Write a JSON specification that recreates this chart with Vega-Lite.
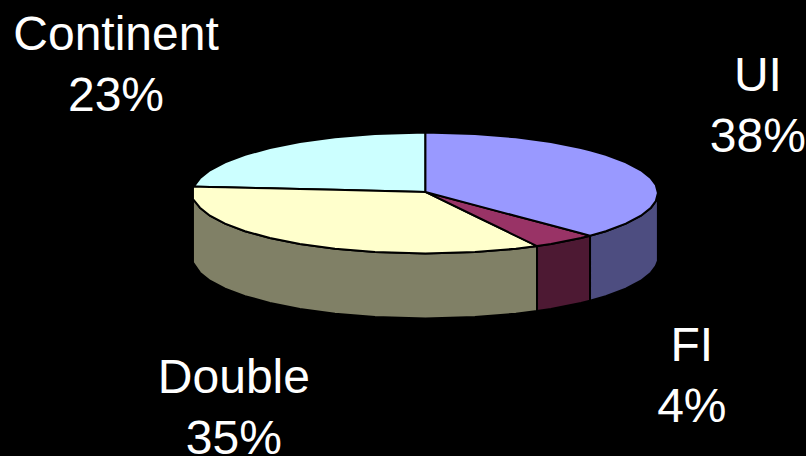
{
  "$schema": "https://vega.github.io/schema/vega-lite/v6.json",
  "width": 806,
  "height": 456,
  "autosize": {"type": "none"},
  "padding": 0,
  "background": "#000000",
  "view": {"stroke": null},
  "datasets": {
    "sides": [
      {"slice": "Double side", "u": -1, "v1": 0, "v2": -1.15},
      {"slice": "Double side", "u": -0.97, "v1": -0.243, "v2": -1.317},
      {"slice": "Double side", "u": -0.927, "v1": -0.375, "v2": -1.449},
      {"slice": "Double side", "u": -0.862, "v1": -0.507, "v2": -1.581},
      {"slice": "Double side", "u": -0.776, "v1": -0.631, "v2": -1.705},
      {"slice": "Double side", "u": -0.669, "v1": -0.743, "v2": -1.817},
      {"slice": "Double side", "u": -0.54, "v1": -0.842, "v2": -1.916},
      {"slice": "Double side", "u": -0.389, "v1": -0.921, "v2": -1.995},
      {"slice": "Double side", "u": -0.217, "v1": -0.976, "v2": -2.05},
      {"slice": "Double side", "u": 0, "v1": -1, "v2": -2.074},
      {"slice": "Double side", "u": 0.213, "v1": -0.977, "v2": -2.051},
      {"slice": "Double side", "u": 0.389, "v1": -0.921, "v2": -1.995},
      {"slice": "Double side", "u": 0.48, "v1": -0.877, "v2": -1.951},
      {"slice": "FI side", "u": 0.48, "v1": -0.877, "v2": -1.951},
      {"slice": "FI side", "u": 0.54, "v1": -0.842, "v2": -1.916},
      {"slice": "FI side", "u": 0.669, "v1": -0.743, "v2": -1.817},
      {"slice": "FI side", "u": 0.708, "v1": -0.706, "v2": -1.78},
      {"slice": "UI side", "u": 0.708, "v1": -0.706, "v2": -1.78},
      {"slice": "UI side", "u": 0.776, "v1": -0.631, "v2": -1.705},
      {"slice": "UI side", "u": 0.862, "v1": -0.507, "v2": -1.581},
      {"slice": "UI side", "u": 0.927, "v1": -0.375, "v2": -1.449},
      {"slice": "UI side", "u": 0.97, "v1": -0.243, "v2": -1.317},
      {"slice": "UI side", "u": 0.991, "v1": -0.134, "v2": -1.208},
      {"slice": "UI side", "u": 1, "v1": 0, "v2": -1.12}
    ],
    "tops": [
      {"slice": "Continent", "u": -0.996, "v1": 0.107, "v2": 0.107},
      {"slice": "Continent", "u": -0.97, "v1": 0.243, "v2": 0.105},
      {"slice": "Continent", "u": -0.927, "v1": 0.375, "v2": 0.101},
      {"slice": "Continent", "u": -0.862, "v1": 0.507, "v2": 0.095},
      {"slice": "Continent", "u": -0.776, "v1": 0.631, "v2": 0.087},
      {"slice": "Continent", "u": -0.669, "v1": 0.743, "v2": 0.077},
      {"slice": "Continent", "u": -0.54, "v1": 0.842, "v2": 0.066},
      {"slice": "Continent", "u": -0.389, "v1": 0.921, "v2": 0.052},
      {"slice": "Continent", "u": -0.217, "v1": 0.976, "v2": 0.037},
      {"slice": "Continent", "u": 0, "v1": 1, "v2": 0.017},
      {"slice": "Double", "u": -1, "v1": 0.107, "v2": -0.1},
      {"slice": "Double", "u": -0.97, "v1": 0.105, "v2": -0.243},
      {"slice": "Double", "u": -0.927, "v1": 0.101, "v2": -0.375},
      {"slice": "Double", "u": -0.862, "v1": 0.095, "v2": -0.507},
      {"slice": "Double", "u": -0.776, "v1": 0.087, "v2": -0.631},
      {"slice": "Double", "u": -0.669, "v1": 0.077, "v2": -0.743},
      {"slice": "Double", "u": -0.54, "v1": 0.066, "v2": -0.842},
      {"slice": "Double", "u": -0.389, "v1": 0.052, "v2": -0.921},
      {"slice": "Double", "u": -0.217, "v1": 0.037, "v2": -0.976},
      {"slice": "Double", "u": 0, "v1": 0.017, "v2": -1},
      {"slice": "Double", "u": 0.213, "v1": -0.38, "v2": -0.977},
      {"slice": "Double", "u": 0.389, "v1": -0.708, "v2": -0.921},
      {"slice": "Double", "u": 0.48, "v1": -0.877, "v2": -0.877},
      {"slice": "FI", "u": 0, "v1": 0.017, "v2": 0.017},
      {"slice": "FI", "u": 0.48, "v1": -0.473, "v2": -0.877},
      {"slice": "FI", "u": 0.54, "v1": -0.534, "v2": -0.842},
      {"slice": "FI", "u": 0.669, "v1": -0.666, "v2": -0.743},
      {"slice": "FI", "u": 0.708, "v1": -0.706, "v2": -0.706},
      {"slice": "UI", "u": 0, "v1": 1, "v2": 0.017},
      {"slice": "UI", "u": 0.213, "v1": 0.977, "v2": -0.2},
      {"slice": "UI", "u": 0.389, "v1": 0.921, "v2": -0.38},
      {"slice": "UI", "u": 0.54, "v1": 0.842, "v2": -0.534},
      {"slice": "UI", "u": 0.669, "v1": 0.743, "v2": -0.666},
      {"slice": "UI", "u": 0.708, "v1": 0.706, "v2": -0.706},
      {"slice": "UI", "u": 0.776, "v1": 0.631, "v2": -0.631},
      {"slice": "UI", "u": 0.862, "v1": 0.507, "v2": -0.507},
      {"slice": "UI", "u": 0.927, "v1": 0.375, "v2": -0.375},
      {"slice": "UI", "u": 0.97, "v1": 0.243, "v2": -0.243},
      {"slice": "UI", "u": 0.991, "v1": 0.134, "v2": -0.134},
      {"slice": "UI", "u": 1, "v1": 0, "v2": 0}
    ],
    "labels": [
      {"label": "Continent\n23%", "u": -1.331, "v": 2.364},
      {"label": "UI\n38%", "u": 1.43, "v": 1.686},
      {"label": "FI\n4%", "u": 1.146, "v": -2.777},
      {"label": "Double\n35%", "u": -0.824, "v": -3.306}
    ]
  },
  "encoding": {
    "x": {"field": "u", "type": "quantitative", "axis": null, "scale": {"domain": [-1.83, 1.637], "nice": false, "zero": false}},
    "y": {"field": "v1", "type": "quantitative", "axis": null, "scale": {"domain": [-4.347, 3.19], "nice": false, "zero": false}}
  },
  "layer": [
    {
      "data": {"name": "sides"},
      "mark": {"type": "area", "orient": "vertical", "stroke": "#000000", "strokeWidth": 2},
      "encoding": {
        "y2": {"field": "v2"},
        "color": {
          "field": "slice",
          "type": "nominal",
          "legend": null,
          "scale": {
            "domain": ["Double side", "FI side", "UI side"],
            "range": ["#808066", "#4D1933", "#4D4D80"]
          }
        }
      }
    },
    {
      "data": {"name": "tops"},
      "mark": {"type": "area", "orient": "vertical", "stroke": "#000000", "strokeWidth": 2},
      "encoding": {
        "y2": {"field": "v2"},
        "color": {
          "field": "slice",
          "type": "nominal",
          "legend": null,
          "scale": {
            "domain": ["Continent", "Double", "FI", "UI"],
            "range": ["#CCFFFF", "#FFFFCC", "#993366", "#9999FF"]
          }
        }
      }
    },
    {
      "data": {"name": "labels"},
      "mark": {
        "type": "text",
        "font": "Liberation Sans",
        "fontSize": 48,
        "align": "center",
        "baseline": "alphabetic",
        "lineBreak": "\n",
        "lineHeight": 61,
        "color": "#FFFFFF",
        "clip": false
      },
      "encoding": {
        "x": {"field": "u", "type": "quantitative"},
        "y": {"field": "v", "type": "quantitative"},
        "text": {"field": "label", "type": "nominal"}
      }
    }
  ],
  "resolve": {"scale": {"color": "independent"}}
}
